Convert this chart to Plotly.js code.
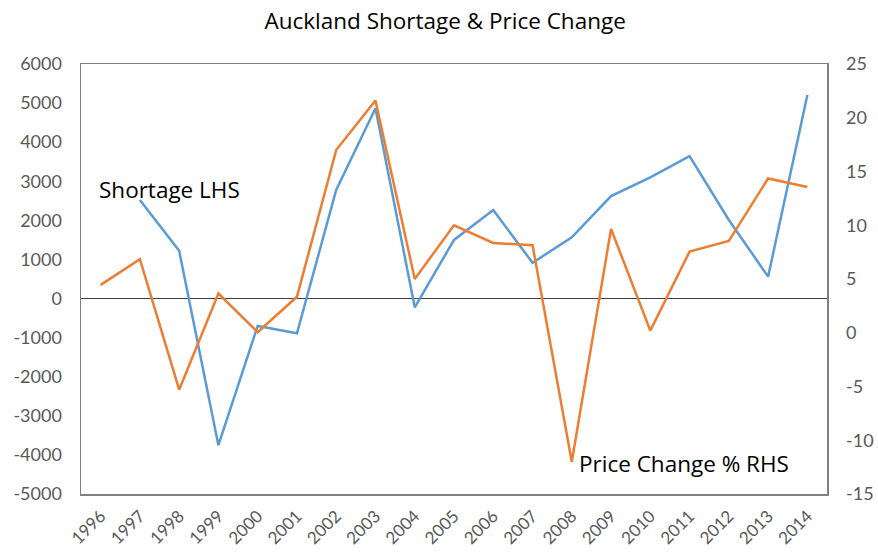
<!DOCTYPE html>
<html>
<head>
<meta charset="utf-8">
<script src="https://cdn.plot.ly/plotly-3.0.1.min.js"></script>
<style>html,body{margin:0;padding:0;background:#fff}#chart{width:878px;height:553px}</style>
</head>
<body>
<div id="chart"></div>
<script>
const years = ['1996','1997','1998','1999','2000','2001','2002','2003','2004','2005','2006','2007','2008','2009','2010','2011','2012','2013','2014'];
const shortage = [null, 2520, 1220, -3750, -700, -890, 2780, 4870, -225, 1500, 2265, 915, 1565, 2620, 3100, 3645, 2010, 560, 5205];
const priceChange = [4.45, 6.85, -5.3, 3.65, 0.05, 3.35, 17.0, 21.6, 5.0, 10.0, 8.35, 8.15, -12.0, 9.65, 0.2, 7.55, 8.55, 14.35, 13.55];
const leftTicks = [-5000,-4000,-3000,-2000,-1000,0,1000,2000,3000,4000,5000,6000];
const rightTicks = [-15,-10,-5,0,5,10,15,20,25];

const tickFont = {family:'Lato, "Open Sans", sans-serif', size:18, color:'#595959'};
const xTickFont = {family:'Lato, "Open Sans", sans-serif', size:17, color:'#595959'};
const textFont = {family:'"Open Sans", Lato, sans-serif', size:22.5, color:'#000'};

const data = [
  {x: years, y: shortage, type:'scatter', mode:'lines', name:'Shortage LHS',
   line:{color:'#5B9BD5', width:2.5}, connectgaps:false, yaxis:'y'},
  {x: years, y: priceChange, type:'scatter', mode:'lines', name:'Price Change % RHS',
   line:{color:'#ED7D31', width:2.5}, yaxis:'y2'}
];

const layout = {
  width:878, height:553,
  margin:{l:81, r:51, t:64, b:59},
  paper_bgcolor:'#fff', plot_bgcolor:'#fff',
  showlegend:false,
  title:{text:'Auckland Shortage & Price Change', x:0.507, xref:'container', xanchor:'center',
         y:0.962, yanchor:'middle', font:textFont},
  xaxis:{type:'category', range:[-0.5,18.5], tickangle:-45, tickfont:xTickFont, ticklabelstandoff:4,
         showline:true, mirror:true, linecolor:'#7f7f7f', linewidth:1.5,
         showgrid:false, ticks:'', automargin:false, fixedrange:true},
  yaxis:{range:[-5000,6000], tickvals:leftTicks, ticktext:leftTicks.map(String), tickfont:tickFont,
         ticklabelstandoff:14,
         showline:true, mirror:true, linecolor:'#7f7f7f', linewidth:1.5,
         showgrid:false, zeroline:true, zerolinecolor:'#404040', zerolinewidth:1,
         ticks:'', automargin:false, fixedrange:true},
  yaxis2:{range:[-15,25], tickvals:rightTicks, ticktext:rightTicks.map(String), tickfont:tickFont,
          ticklabelstandoff:18,
          overlaying:'y', side:'right', showline:false, showgrid:false, zeroline:false,
          ticks:'', automargin:false, fixedrange:true},
  annotations:[
    {text:'Shortage LHS', xref:'paper', yref:'paper', x:0.021, y:0.707, xanchor:'left', yanchor:'middle',
     showarrow:false, font:textFont},
    {text:'Price Change % RHS', xref:'paper', yref:'paper', x:0.665, y:0.072, xanchor:'left', yanchor:'middle',
     showarrow:false, font:textFont}
  ]
};

Plotly.newPlot('chart', data, layout, {displayModeBar:false, staticPlot:true});
</script>
</body>
</html>
